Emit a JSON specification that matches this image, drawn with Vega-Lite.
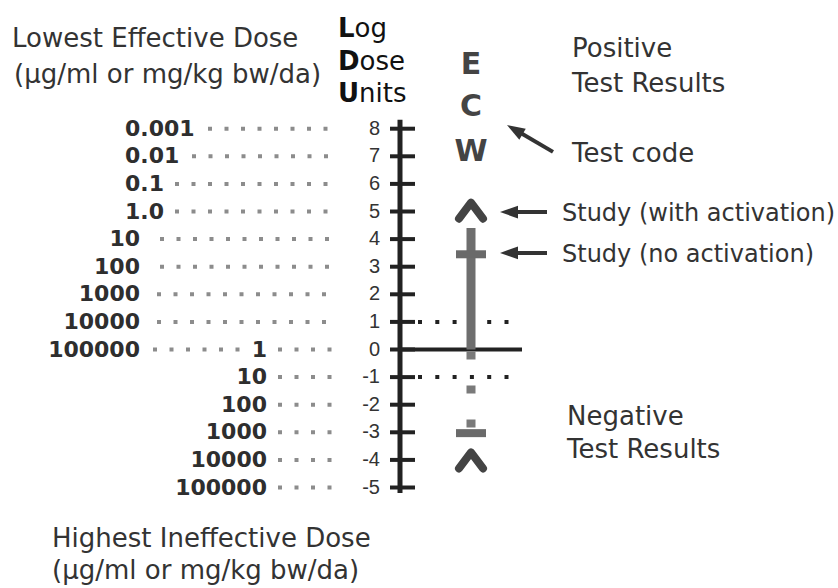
{
  "$schema": "https://vega.github.io/schema/vega-lite/v6.json",
  "width": 838,
  "height": 588,
  "autosize": {"type": "fit", "contains": "padding"},
  "padding": 0,
  "background": "white",
  "config": {"view": {"stroke": null}},
  "datasets": {
    "leaders": [
      {"x": -19.2, "x2": -6.5, "y": 8},
      {"x": -20.8, "x2": -6.5, "y": 7},
      {"x": -22.5, "x2": -6.5, "y": 6},
      {"x": -22.5, "x2": -6.5, "y": 5},
      {"x": -24, "x2": -6.5, "y": 4},
      {"x": -24, "x2": -6.5, "y": 3},
      {"x": -24.3, "x2": -6.5, "y": 2},
      {"x": -24.3, "x2": -6.5, "y": 1},
      {"x": -24.7, "x2": -15, "y": 0},
      {"x": -12.2, "x2": -6.5, "y": 0},
      {"x": -12.2, "x2": -6.5, "y": -1},
      {"x": -12.2, "x2": -6.5, "y": -2},
      {"x": -12.2, "x2": -6.5, "y": -3},
      {"x": -12.2, "x2": -6.5, "y": -4},
      {"x": -12.2, "x2": -6.5, "y": -5}
    ],
    "vline": [{"x": 0, "y": 8.32, "y2": -5.2}],
    "ticks": [
      {"x": -1, "x2": 1.5, "y": 8}, {"x": -1, "x2": 1.5, "y": 7}, {"x": -1, "x2": 1.5, "y": 6},
      {"x": -1, "x2": 1.5, "y": 5}, {"x": -1, "x2": 1.5, "y": 4}, {"x": -1, "x2": 1.5, "y": 3},
      {"x": -1, "x2": 1.5, "y": 2}, {"x": -1, "x2": 1.5, "y": 1}, {"x": -1, "x2": 1.5, "y": 0},
      {"x": -1, "x2": 1.5, "y": -1}, {"x": -1, "x2": 1.5, "y": -2}, {"x": -1, "x2": 1.5, "y": -3},
      {"x": -1, "x2": 1.5, "y": -4}, {"x": -1, "x2": 1.5, "y": -5}
    ],
    "zeroline": [{"x": 0, "x2": 12.2, "y": 0}],
    "dotted": [{"x": 1.8, "x2": 10.9, "y": 1}, {"x": 1.8, "x2": 10.9, "y": -1}],
    "bar": [{"x": 7.1, "y": 0, "y2": 4.4}],
    "dashbar": [{"x": 7.1, "y": 0, "y2": -3}],
    "crossbars": [{"x": 5.6, "x2": 8.6, "y": 3.45}, {"x": 5.6, "x2": 8.6, "y": -3.03}],
    "carets": [{"x": 7.1, "y": 5.03}, {"x": 7.1, "y": -4.02}],
    "shafts": [
      {"x": 15.3, "y": 7.16, "x2": 11.39, "y2": 7.99},
      {"x": 14.7, "y": 4.98, "x2": 10.8, "y2": 4.98},
      {"x": 14.7, "y": 3.5, "x2": 10.8, "y2": 3.5}
    ],
    "headDiag": [{"x": 10.7, "y": 8.13}],
    "headLeft": [{"x": 10, "y": 4.98}, {"x": 10, "y": 3.5}],
    "doseLeftAligned": [
      {"x": -27.5, "y": 8, "label": "0.001"},
      {"x": -27.5, "y": 7, "label": "0.01"},
      {"x": -27.5, "y": 6, "label": "0.1"},
      {"x": -27.5, "y": 5, "label": "1.0"}
    ],
    "doseRightAligned": [
      {"x": -26, "y": 4, "label": "10"},
      {"x": -26, "y": 3, "label": "100"},
      {"x": -26, "y": 2, "label": "1000"},
      {"x": -26, "y": 1, "label": "10000"},
      {"x": -26, "y": 0, "label": "100000"},
      {"x": -13.3, "y": 0, "label": "1"},
      {"x": -13.3, "y": -1, "label": "10"},
      {"x": -13.3, "y": -2, "label": "100"},
      {"x": -13.3, "y": -3, "label": "1000"},
      {"x": -13.3, "y": -4, "label": "10000"},
      {"x": -13.3, "y": -5, "label": "100000"}
    ],
    "axisNums": [
      {"x": -2, "y": 8, "label": "8"}, {"x": -2, "y": 7, "label": "7"}, {"x": -2, "y": 6, "label": "6"},
      {"x": -2, "y": 5, "label": "5"}, {"x": -2, "y": 4, "label": "4"}, {"x": -2, "y": 3, "label": "3"},
      {"x": -2, "y": 2, "label": "2"}, {"x": -2, "y": 1, "label": "1"}, {"x": -2, "y": 0, "label": "0"},
      {"x": -2, "y": -1, "label": "-1"}, {"x": -2, "y": -2, "label": "-2"}, {"x": -2, "y": -3, "label": "-3"},
      {"x": -2, "y": -4, "label": "-4"}, {"x": -2, "y": -5, "label": "-5"}
    ],
    "texts26": [
      {"x": -38.8, "y": 10.96, "label": "Lowest Effective Dose"},
      {"x": -38.6, "y": 9.66, "label": "(µg/ml or mg/kg bw/da)"},
      {"x": -34.8, "y": -7.16, "label": "Highest Ineffective Dose"},
      {"x": -34.8, "y": -8.32, "label": "(µg/ml or mg/kg bw/da)"},
      {"x": 17.2, "y": 10.6, "label": "Positive"},
      {"x": 17.2, "y": 9.33, "label": "Test Results"},
      {"x": 17.2, "y": 6.79, "label": "Test code"},
      {"x": 16.7, "y": -2.74, "label": "Negative"},
      {"x": 16.7, "y": -3.93, "label": "Test Results"}
    ],
    "texts24": [
      {"x": 16.2, "y": 4.65, "label": "Study (with activation)"},
      {"x": 16.2, "y": 3.17, "label": "Study (no activation)"}
    ],
    "codes": [
      {"x": 7.1, "y": 10.0, "label": "E"},
      {"x": 7.1, "y": 8.45, "label": "C"},
      {"x": 7.1, "y": 6.83, "label": "W"}
    ],
    "lduBold": [
      {"x": -6.2, "y": 11.32, "label": "L"},
      {"x": -6.2, "y": 10.13, "label": "D"},
      {"x": -6.2, "y": 8.97, "label": "U"}
    ],
    "lduRest": [
      {"x": -4.54, "y": 11.32, "label": "og"},
      {"x": -4.04, "y": 10.13, "label": "ose"},
      {"x": -4.09, "y": 8.97, "label": "nits"}
    ]
  },
  "encoding": {
    "x": {"field": "x", "type": "quantitative", "scale": {"domain": [-40, 43.8], "nice": false, "zero": false}, "axis": null},
    "y": {"field": "y", "type": "quantitative", "scale": {"domain": [-8.641, 12.663], "nice": false, "zero": false}, "axis": null}
  },
  "layer": [
    {"data": {"name": "leaders"}, "mark": {"type": "rule", "color": "#8c8c8c", "strokeWidth": 4, "strokeDash": [4, 12.5]}, "encoding": {"x2": {"field": "x2"}}},
    {"data": {"name": "dotted"}, "mark": {"type": "rule", "color": "#222222", "strokeWidth": 4, "strokeDash": [4, 13.3]}, "encoding": {"x2": {"field": "x2"}}},
    {"data": {"name": "vline"}, "mark": {"type": "rule", "color": "#222222", "strokeWidth": 5}, "encoding": {"y2": {"field": "y2"}}},
    {"data": {"name": "ticks"}, "mark": {"type": "rule", "color": "#222222", "strokeWidth": 4}, "encoding": {"x2": {"field": "x2"}}},
    {"data": {"name": "zeroline"}, "mark": {"type": "rule", "color": "#222222", "strokeWidth": 4}, "encoding": {"x2": {"field": "x2"}}},
    {"data": {"name": "bar"}, "mark": {"type": "rule", "color": "#6e6e6e", "strokeWidth": 9}, "encoding": {"y2": {"field": "y2"}}},
    {"data": {"name": "dashbar"}, "mark": {"type": "rule", "color": "#7a7a7a", "strokeWidth": 9, "strokeDash": [8, 26], "strokeDashOffset": -2}, "encoding": {"y2": {"field": "y2"}}},
    {"data": {"name": "crossbars"}, "mark": {"type": "rule", "color": "#6a6a6a", "strokeWidth": 8}, "encoding": {"x2": {"field": "x2"}}},
    {"data": {"name": "carets"}, "mark": {"type": "point", "shape": "M-1.2,0.8L0,-0.8L1.2,0.8", "size": 400, "filled": false, "color": "#444444", "strokeWidth": 8, "strokeCap": "round", "strokeJoin": "round", "opacity": 1}},
    {"data": {"name": "shafts"}, "mark": {"type": "rule", "color": "#333333", "strokeWidth": 4}, "encoding": {"x2": {"field": "x2"}, "y2": {"field": "y2"}}},
    {"data": {"name": "headDiag"}, "mark": {"type": "point", "shape": "M0,0L0.85,2.4L-0.85,2.4Z", "size": 225, "filled": true, "color": "#333333", "strokeWidth": 0, "opacity": 1, "angle": 300.4}},
    {"data": {"name": "headLeft"}, "mark": {"type": "point", "shape": "M0,0L0.85,2.4L-0.85,2.4Z", "size": 225, "filled": true, "color": "#333333", "strokeWidth": 0, "opacity": 1, "angle": 270}},
    {"data": {"name": "doseLeftAligned"}, "mark": {"type": "text", "align": "left", "baseline": "middle", "font": "DejaVu Sans", "fontWeight": "bold", "fontSize": 22, "color": "#2e2e2e"}, "encoding": {"text": {"field": "label"}}},
    {"data": {"name": "doseRightAligned"}, "mark": {"type": "text", "align": "right", "baseline": "middle", "font": "DejaVu Sans", "fontWeight": "bold", "fontSize": 22, "color": "#2e2e2e"}, "encoding": {"text": {"field": "label"}}},
    {"data": {"name": "axisNums"}, "mark": {"type": "text", "align": "right", "baseline": "middle", "font": "Liberation Sans", "fontSize": 20, "color": "#333333"}, "encoding": {"text": {"field": "label"}}},
    {"data": {"name": "texts26"}, "mark": {"type": "text", "align": "left", "baseline": "alphabetic", "font": "DejaVu Sans", "fontSize": 26, "color": "#333333"}, "encoding": {"text": {"field": "label"}}},
    {"data": {"name": "texts24"}, "mark": {"type": "text", "align": "left", "baseline": "alphabetic", "font": "DejaVu Sans", "fontSize": 24, "color": "#333333"}, "encoding": {"text": {"field": "label"}}},
    {"data": {"name": "codes"}, "mark": {"type": "text", "align": "center", "baseline": "alphabetic", "font": "DejaVu Sans", "fontWeight": "bold", "fontSize": 30, "color": "#444444"}, "encoding": {"text": {"field": "label"}}},
    {"data": {"name": "lduBold"}, "mark": {"type": "text", "align": "left", "baseline": "alphabetic", "font": "DejaVu Sans", "fontWeight": "bold", "fontSize": 26, "color": "#111111"}, "encoding": {"text": {"field": "label"}}},
    {"data": {"name": "lduRest"}, "mark": {"type": "text", "align": "left", "baseline": "alphabetic", "font": "DejaVu Sans", "fontSize": 26, "color": "#111111"}, "encoding": {"text": {"field": "label"}}}
  ]
}
